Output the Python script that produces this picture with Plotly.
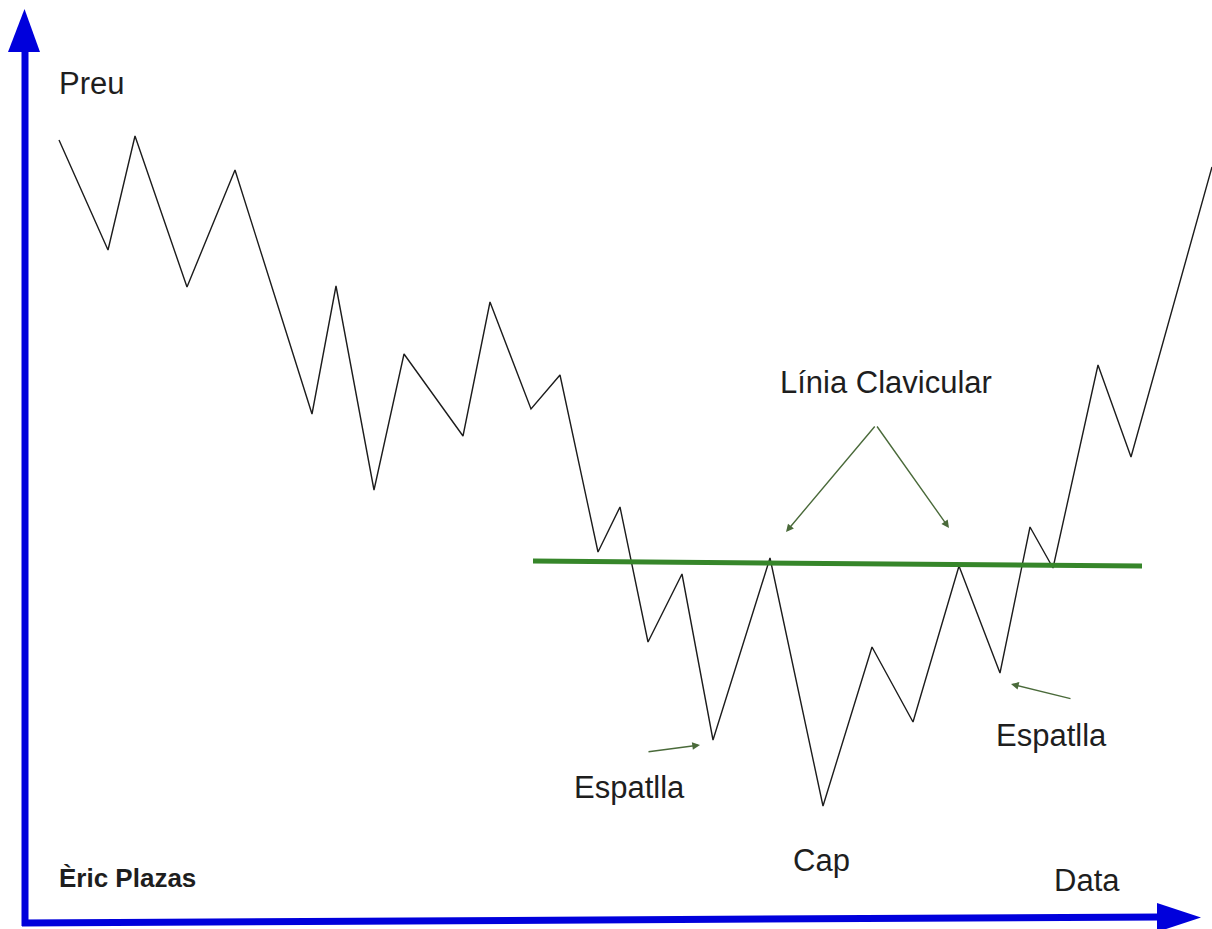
import plotly.graph_objects as go

W, H = 1212, 929

# ---- data (x = date position, price = height) ----
dates = [59, 108, 135, 187, 235, 312, 336, 374, 404, 463, 490, 531, 560, 598,
         620, 648, 682, 713, 770, 823, 872, 913, 959, 1000, 1030, 1053, 1098, 1131, 1212]
price_px = [140, 250, 136, 287, 170, 414, 286, 490, 354, 436, 302, 409, 375, 552,
            507, 642, 574, 740, 558, 806, 647, 722, 566, 673, 527, 568, 365, 457, 167]
prices = [H - v for v in price_px]

neck_dates = [533, 1142]
neck_prices = [H - 561, H - 566]

labels = ["Preu", "Data", "Èric Plazas", "Línia Clavicular", "Espatlla", "Espatlla", "Cap"]

fig = go.Figure()

fig.add_trace(go.Scatter(x=dates, y=prices, mode="lines",
                         line=dict(color="#1c1c1c", width=1.4), hoverinfo="skip"))
fig.add_trace(go.Scatter(x=neck_dates, y=neck_prices, mode="lines",
                         line=dict(color="#36862a", width=5), hoverinfo="skip"))

BLUE = "#0000dc"
shapes = [
    # vertical axis
    dict(type="line", xref="x", yref="y", x0=25, y0=H - 926, x1=25, y1=H - 50,
         line=dict(color=BLUE, width=7)),
    dict(type="path", xref="x", yref="y",
         path=f"M 8,{H-52} L 40,{H-52} L 24.5,{H-9} Z",
         fillcolor=BLUE, line=dict(color=BLUE, width=0)),
    # horizontal axis
    dict(type="line", xref="x", yref="y", x0=22, y0=H - 923, x1=1160, y1=H - 917,
         line=dict(color=BLUE, width=7)),
    dict(type="path", xref="x", yref="y",
         path=f"M 1157,{H-903} L 1157,{H-932} L 1201,{H-917.5} Z",
         fillcolor=BLUE, line=dict(color=BLUE, width=0)),
]

FONT = "Liberation Sans, Arial, sans-serif"
TXT = "#1e1e1e"
text_pos = [(91, 83, 31, False), (1087, 880, 31, False), (127, 878, 26, True),
            (886, 382, 31, False), (629, 787, 31, False), (1051, 735, 31, False),
            (821, 860, 31, False)]
annotations = []
for lab, (x, y, s, b) in zip(labels, text_pos):
    annotations.append(dict(
        x=x, y=H - y, xref="x", yref="y", showarrow=False,
        text=f"<b>{lab}</b>" if b else lab, xanchor="center", yanchor="middle",
        font=dict(family=FONT, size=s, color=TXT)))

GREEN_A = "#4a6a3a"
arrows = [((876, 425), (786, 532)), ((876, 425), (949, 528)),
          ((647, 752), (700, 745)), ((1072, 699), (1011, 684))]
for (tx, ty), (hx, hy) in arrows:
    annotations.append(dict(
        x=hx, y=H - hy, ax=tx, ay=H - ty, xref="x", yref="y", axref="x", ayref="y",
        showarrow=True, arrowhead=2, arrowsize=1.1, arrowwidth=1.4,
        arrowcolor=GREEN_A, text=""))

fig.update_layout(
    width=W, height=H, margin=dict(l=0, r=0, t=0, b=0),
    paper_bgcolor="white", plot_bgcolor="white", showlegend=False,
    xaxis=dict(range=[0, W], visible=False, fixedrange=True),
    yaxis=dict(range=[0, H], visible=False, fixedrange=True),
    shapes=shapes, annotations=annotations,
)

fig.write_html("out.html", config={"displayModeBar": False},
               post_script="document.body.style.margin='0';")
